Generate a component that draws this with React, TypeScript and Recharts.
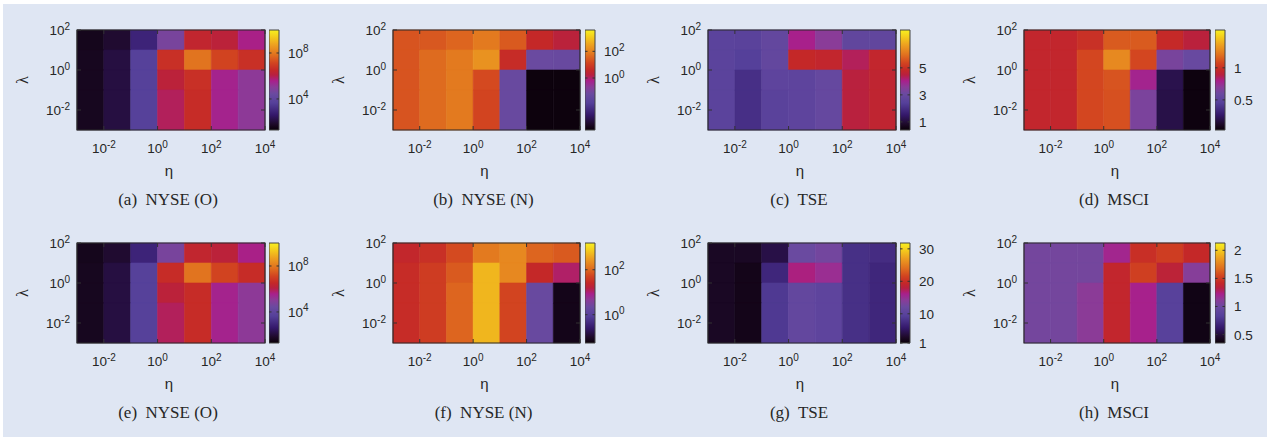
import React from 'react';
import { ScatterChart, Scatter, ComposedChart, XAxis, YAxis, ReferenceArea } from 'recharts';

// bin edges (log10 exponents)
const etaEdges = [-3, -2, -1, 0, 1, 2, 3, 4];
const lambdaEdges = [2, 1, 0, -1, -3];
const etaTicks = [-2, 0, 2, 4];
const lambdaTicks = [-2, 0, 2];

// cell values: rows = λ bins top→bottom, cols = η bins left→right
// log bars hold log10 of the value, linear bars hold the value
const nyseOpenTop = [
  [1.6, 1.9, 2.9, 4.7, 6.4, 6.2, 5.6],
  [1.65, 2.1, 3.7, 6.7, 7.9, 7.1, 6.7],
  [1.65, 2.1, 3.7, 6.2, 6.7, 5.5, 5.1],
  [1.65, 2.1, 3.7, 5.9, 6.6, 5.5, 5.1],
];
const nyseNormTop = [
  [1.35, 1.4, 1.58, 1.88, 1.43, 0.6, 0.3],
  [1.35, 1.65, 1.88, 2.25, 0.68, -1.2, -1.28],
  [1.35, 1.65, 1.88, 1.2, -1.28, -3.83, -3.83],
  [1.35, 1.65, 1.88, 1.13, -1.28, -3.83, -3.83],
];
const tseTop = [
  [2.6, 2.55, 2.84, 4.03, 3.58, 2.77, 2.77],
  [2.6, 2.4, 2.84, 4.84, 4.77, 4.32, 4.77],
  [2.6, 2.03, 2.69, 2.69, 2.92, 4.5, 4.7],
  [2.6, 2.03, 2.55, 2.69, 2.92, 4.5, 4.7],
];
const msciTop = [
  [0.95, 0.95, 1.0, 1.14, 1.14, 0.97, 0.9],
  [0.95, 0.95, 1.08, 1.28, 1.08, 0.64, 0.58],
  [0.95, 0.95, 1.08, 1.12, 0.78, 0.2, 0.05],
  [0.95, 0.95, 1.08, 1.11, 0.65, 0.19, 0.05],
];
const nyseOpenBottom = [
  [1.6, 1.9, 2.9, 4.7, 6.4, 6.2, 5.6],
  [1.65, 2.1, 3.7, 6.6, 7.9, 7.1, 6.6],
  [1.65, 2.1, 3.7, 6.2, 6.6, 5.5, 5.1],
  [1.65, 2.1, 3.7, 5.9, 6.6, 5.5, 5.1],
];
const nyseNormBottom = [
  [1.37, 1.5, 1.77, 2.17, 2.3, 1.99, 1.9],
  [1.45, 1.63, 1.9, 2.7, 2.3, 1.41, 1.05],
  [1.45, 1.63, 1.99, 2.7, 1.72, 0.3, -1.13],
  [1.45, 1.63, 1.99, 2.7, 1.72, 0.3, -1.13],
];
const tseBottom = [
  [2.5, 2.5, 4.1, 12.1, 12.7, 7.8, 7.5],
  [2.5, 1.9, 6.9, 16.4, 15.2, 7.8, 6.9],
  [2.5, 1.9, 8.7, 11.2, 10.5, 7.8, 6.9],
  [2.5, 1.9, 8.7, 11.2, 10.5, 7.8, 6.9],
];
const msciBottom = [
  [1.03, 1.03, 1.03, 1.2, 1.45, 1.51, 1.42],
  [1.03, 1.03, 1.03, 1.4, 1.52, 1.36, 1.1],
  [1.03, 1.03, 1.12, 1.4, 1.22, 0.85, 0.39],
  [1.03, 1.03, 1.12, 1.4, 1.22, 0.85, 0.39],
];

const captions = ['(a)', '(b)', '(c)', '(d)', '(e)', '(f)', '(g)', '(h)'];
const markets = ['NYSE (O)', 'NYSE (N)', 'TSE', 'MSCI', 'NYSE (O)', 'NYSE (N)', 'TSE', 'MSCI'];
const cbRanges: [number, number][] = [
  [1.3, 10], [-3.9, 3.6], [0.4, 7.8], [0.03, 1.59],
  [1.3, 10], [-1.26, 3.19], [1, 31.8], [0.35, 2.13],
];
const cbTicks = [[4, 8], [0, 2], [1, 3, 5], [0.5, 1], [4, 8], [0, 2], [1, 10, 20, 30], [0.5, 1, 1.5, 2]];
const cbLog = [true, true, false, false, true, true, false, false];
const panelValues = [nyseOpenTop, nyseNormTop, tseTop, msciTop, nyseOpenBottom, nyseNormBottom, tseBottom, msciBottom];

// layout
const colX = [77, 393, 708, 1024];
const colW = [188, 187, 188, 186];
const cbX = [269, 585, 900, 1215];
const rowY = [30, 243];
const PH = 100;
const CBW = 10;
const RIGHT_PAD = 24;

const paletteStops: [number, string][] = [
  [0.0, '#0a0008'],
  [0.06, '#1e0a2a'],
  [0.15, '#34186a'],
  [0.27, '#55409a'],
  [0.36, '#6a4aa0'],
  [0.43, '#8a3c98'],
  [0.49, '#a8208c'],
  [0.55, '#b82040'],
  [0.6, '#c42828'],
  [0.67, '#d24420'],
  [0.75, '#e0701f'],
  [0.85, '#eda020'],
  [0.93, '#f4cc1c'],
  [1.0, '#f8f020'],
];

const TICK_FONT = "'Liberation Sans Narrow', 'Liberation Sans', Arial, sans-serif";
const SANS = "'Liberation Sans', Arial, sans-serif";
const SERIF = "'Liberation Serif', 'Times New Roman', serif";
const INK = '#262626';
const TFS = 13.5;
const SFS = 10;

function hexToRgb(h: string) {
  const n = parseInt(h.slice(1), 16);
  return [(n >> 16) & 255, (n >> 8) & 255, n & 255];
}
function paletteColor(t: number) {
  const tt = Math.max(0, Math.min(1, t));
  for (let i = 1; i < paletteStops.length; i++) {
    const [t1, c1] = paletteStops[i];
    const [t0, c0] = paletteStops[i - 1];
    if (tt <= t1) {
      const f = (tt - t0) / (t1 - t0);
      const a = hexToRgb(c0);
      const b = hexToRgb(c1);
      const m = a.map((v, k) => Math.round(v + (b[k] - v) * f));
      return `rgb(${m[0]},${m[1]},${m[2]})`;
    }
  }
  return paletteStops[paletteStops.length - 1][1];
}

const emptyShape = () => <g />;

function Heatmap({ idx }: { idx: number }) {
  const col = idx % 4;
  const row = Math.floor(idx / 4);
  const px = colX[col];
  const pw = colW[col];
  const py = rowY[row];
  const [mn, mx] = cbRanges[idx];
  const values = panelValues[idx];
  const cells: { x1: number; x2: number; y1: number; y2: number; xc: number; yc: number; v: number }[] = [];
  values.forEach((r, ri) =>
    r.forEach((v, ci) =>
      cells.push({
        x1: etaEdges[ci],
        x2: etaEdges[ci + 1],
        y1: lambdaEdges[ri + 1],
        y2: lambdaEdges[ri],
        xc: (etaEdges[ci] + etaEdges[ci + 1]) / 2,
        yc: (lambdaEdges[ri] + lambdaEdges[ri + 1]) / 2,
        v,
      })
    )
  );
  const xTick = (p: any) => {
    const { x, y, payload } = p;
    return (
      <g>
        <line x1={x} x2={x} y1={y} y2={y - 4} stroke="#333" />
        <line x1={x} x2={x} y1={y - PH} y2={y - PH + 4} stroke="#333" />
        <text x={x} y={y + 23} textAnchor="middle" fontSize={TFS} fontFamily={TICK_FONT} fill={INK}>
          10<tspan dy={-5.5} fontSize={SFS}>{payload.value}</tspan>
        </text>
      </g>
    );
  };
  const yTick = (p: any) => {
    const { x, y, payload } = p;
    return (
      <g>
        <line x1={x} x2={x + 4} y1={y} y2={y} stroke="#333" />
        <line x1={x + pw} x2={x + pw - 4} y1={y} y2={y} stroke="#333" />
        <text x={x - 7} y={y + 5} textAnchor="end" fontSize={TFS} fontFamily={TICK_FONT} fill={INK}>
          10<tspan dy={-5.5} fontSize={SFS}>{payload.value}</tspan>
        </text>
      </g>
    );
  };
  return (
    <div style={{ position: 'absolute', left: px - 60, top: py - 10 }}>
      <ScatterChart width={pw + 60 + RIGHT_PAD} height={PH + 70} margin={{ top: 10, right: RIGHT_PAD, left: 10, bottom: 0 }}>
        <XAxis
          type="number"
          dataKey="xc"
          scale="linear"
          domain={[etaEdges[0], etaEdges[etaEdges.length - 1]]}
          ticks={etaTicks}
          interval={0}
          height={60}
          tickSize={0}
          tickMargin={0}
          tickLine={false}
          axisLine={false}
          allowDataOverflow
          tick={xTick}
        />
        <YAxis
          type="number"
          dataKey="yc"
          scale="linear"
          domain={[lambdaEdges[lambdaEdges.length - 1], lambdaEdges[0]]}
          ticks={lambdaTicks}
          interval={0}
          width={50}
          tickSize={0}
          tickMargin={0}
          tickLine={false}
          axisLine={false}
          allowDataOverflow
          tick={yTick}
        />
        {cells.map((c, i) => {
          const color = paletteColor((c.v - mn) / (mx - mn));
          return (
            <ReferenceArea
              key={i}
              x1={c.x1}
              x2={c.x2}
              y1={c.y1}
              y2={c.y2}
              fill={color}
              fillOpacity={1}
              stroke={color}
              strokeWidth={0.6}
            />
          );
        })}
        <ReferenceArea
          x1={etaEdges[0]}
          x2={etaEdges[etaEdges.length - 1]}
          y1={lambdaEdges[lambdaEdges.length - 1]}
          y2={lambdaEdges[0]}
          fill="none"
          fillOpacity={0}
          stroke="#2a2a2a"
          strokeWidth={1.2}
        />
        <Scatter data={cells} shape={emptyShape} isAnimationActive={false} />
      </ScatterChart>
    </div>
  );
}

function ColorBar({ idx }: { idx: number }) {
  const col = idx % 4;
  const row = Math.floor(idx / 4);
  const left = cbX[col];
  const py = rowY[row];
  const [mn, mx] = cbRanges[idx];
  const log = cbLog[idx];
  const gid = `cbgrad${idx}`;
  const tick = (p: any) => {
    const { x, y, payload } = p;
    return (
      <g>
        <line x1={x - CBW} x2={x - CBW + 2.5} y1={y} y2={y} stroke="#333" />
        <line x1={x - 2.5} x2={x} y1={y} y2={y} stroke="#333" />
        <text x={x + 9} y={y + 5} textAnchor="start" fontSize={TFS} fontFamily={TICK_FONT} fill={INK}>
          {log ? (
            <>
              10<tspan dy={-5.5} fontSize={SFS}>{payload.value}</tspan>
            </>
          ) : (
            String(payload.value)
          )}
        </text>
      </g>
    );
  };
  return (
    <div style={{ position: 'absolute', left, top: py - 10 }}>
      <ComposedChart width={CBW + 50} height={PH + 20} margin={{ top: 10, right: 0, bottom: 10, left: 0 }} data={[{ x: 0 }]}>
        <defs>
          <linearGradient id={gid} x1="0" y1="1" x2="0" y2="0">
            {paletteStops.map(([t, c]) => (
              <stop key={t} offset={t} stopColor={c} />
            ))}
          </linearGradient>
        </defs>
        <XAxis type="number" dataKey="x" domain={[0, 1]} hide allowDataOverflow />
        <YAxis
          type="number"
          orientation="right"
          domain={[mn, mx]}
          ticks={cbTicks[idx]}
          interval={0}
          width={50}
          tickSize={0}
          tickMargin={0}
          tickLine={false}
          axisLine={false}
          allowDataOverflow
          tick={tick}
        />
        <ReferenceArea x1={0} x2={1} y1={mn} y2={mx} fill={`url(#${gid})`} fillOpacity={1} stroke="#444" strokeWidth={1} />
      </ComposedChart>
    </div>
  );
}

export default function App() {
  const idxs = [0, 1, 2, 3, 4, 5, 6, 7];
  return (
    <div style={{ position: 'absolute', left: 0, top: 0, width: 1267, height: 437, background: '#ffffff', overflow: 'hidden' }}>
      <div style={{ position: 'absolute', left: 3, top: 4, width: 1264, height: 433, background: '#dfe6f3' }} />
      {idxs.map((i) => (
        <Heatmap key={`h${i}`} idx={i} />
      ))}
      {idxs.map((i) => (
        <ColorBar key={`c${i}`} idx={i} />
      ))}
      <svg width={1267} height={437} style={{ position: 'absolute', left: 0, top: 0, pointerEvents: 'none' }}>
        {idxs.map((i) => {
          const col = i % 4;
          const row = Math.floor(i / 4);
          const cx = colX[col] + colW[col] / 2;
          const py = rowY[row];
          const lx = colX[col] - 54;
          const ly = py + PH / 2;
          return (
            <g key={i}>
              <text x={cx - 2} y={py + 146} textAnchor="middle" fontSize={15} fontFamily={SANS} fill={INK}>
                η
              </text>
              <text
                x={lx}
                y={ly + 5}
                textAnchor="middle"
                fontSize={16}
                fontFamily={SERIF}
                fill={INK}
                transform={`rotate(-90 ${lx} ${ly})`}
              >
                λ
              </text>
              <text
                x={cx - 3}
                y={py + 175}
                textAnchor="middle"
                fontSize={17}
                fontFamily={SERIF}
                fill={INK}
                style={{ whiteSpace: 'pre' }}
              >
                {`${captions[i]}  ${markets[i]}`}
              </text>
            </g>
          );
        })}
      </svg>
    </div>
  );
}
